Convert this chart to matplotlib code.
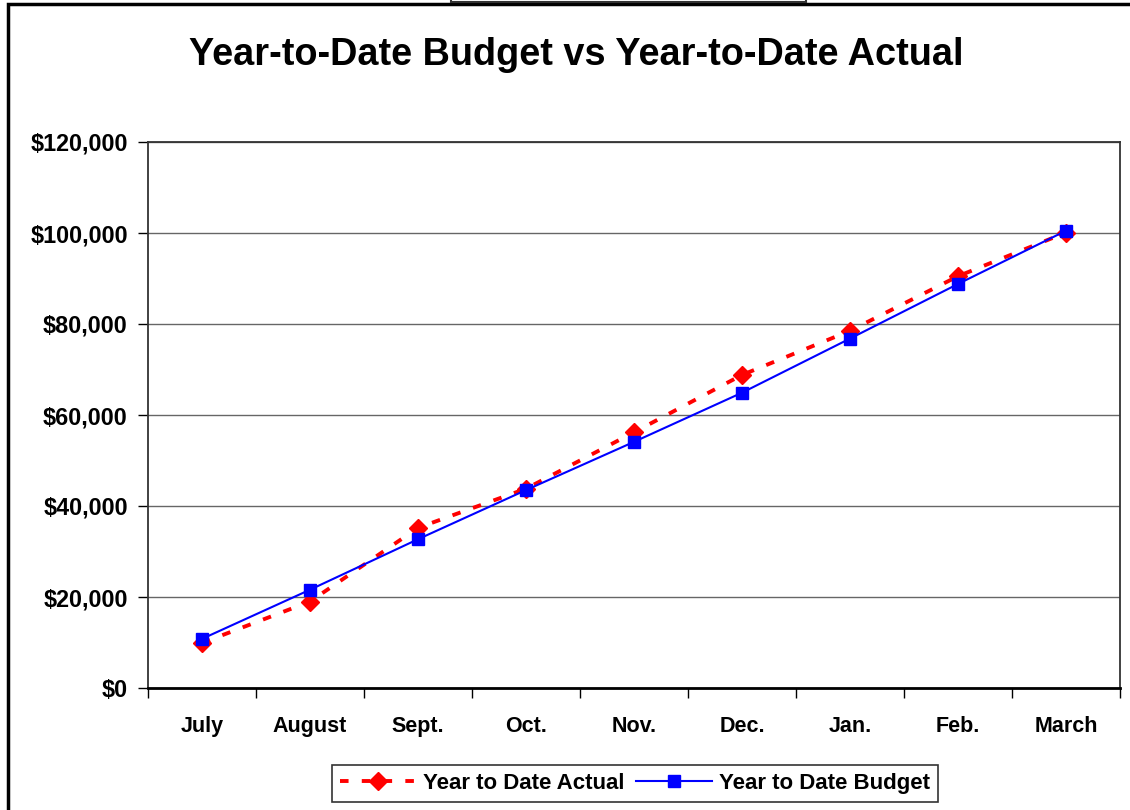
import numpy as np
import matplotlib
matplotlib.use("Agg")
import matplotlib.pyplot as plt
from matplotlib.patches import Rectangle
from matplotlib.ticker import FuncFormatter, FixedLocator

plt.rcParams['font.family'] = ['Liberation Sans', 'DejaVu Sans']
plt.rcParams['font.weight'] = 'bold'

# data
months = ['July', 'August', 'Sept.', 'Oct.', 'Nov.', 'Dec.', 'Jan.', 'Feb.', 'March']
ytd_actual = [9900, 19000, 35200, 43800, 56200, 68800, 78500, 90500, 100100]
ytd_budget = [10800, 21600, 32700, 43500, 54100, 64900, 76800, 88800, 100500]
y_ticks = [0, 20000, 40000, 60000, 80000, 100000, 120000]

fig = plt.figure(figsize=(11.3, 8.1), dpi=100)
ax = fig.add_axes([148/1130, 1-688/810, (1120-148)/1130, (688-142)/810])

x = np.arange(len(months))
ax.plot(x, ytd_actual, color='red', linestyle=(0, (2.2, 3.4)), linewidth=2.8,
        marker='D', markersize=9, label='Year to Date Actual', zorder=3)
ax.plot(x, ytd_budget, color='blue', linewidth=1.5,
        marker='s', markersize=8, label='Year to Date Budget', zorder=4)

ax.set_xlim(-0.5, len(months) - 0.5)
ax.set_ylim(0, 120000)
ax.set_yticks(y_ticks)
ax.yaxis.set_major_formatter(FuncFormatter(lambda v, p: '${:,.0f}'.format(v)))
ax.set_xticks(x)
ax.set_xticklabels(months)
ax.xaxis.set_minor_locator(FixedLocator(np.arange(-0.5, len(months), 1.0)))
ax.tick_params(axis='x', which='major', length=0, pad=20, labelsize=15.5)
ax.tick_params(axis='x', which='minor', length=7, width=1, direction='out')
ax.tick_params(axis='y', length=7, width=1, direction='out', pad=7.5, labelsize=16.8)
for lbl in ax.get_xticklabels() + ax.get_yticklabels():
    lbl.set_fontweight('bold')

ax.grid(axis='y', color='0.4', linewidth=1)
ax.set_axisbelow(True)
for side in ['top', 'right', 'left']:
    ax.spines[side].set_linewidth(1.3)
    ax.spines[side].set_color('0.2')
ax.spines['bottom'].set_linewidth(2)
ax.spines['bottom'].set_color('black')

fig.text(576/1130, 1-55/810, 'Year-to-Date Budget vs Year-to-Date Actual',
         ha='center', va='center', fontsize=27.3, fontweight='bold')

leg = fig.legend(loc='center', bbox_to_anchor=(635/1130, 1-783.5/810), ncol=2,
                 frameon=True, fancybox=False, edgecolor='black', fontsize=16,
                 handlelength=3.45, columnspacing=0.5, handletextpad=0.3,
                 borderpad=0.35, borderaxespad=0)
leg.get_frame().set_linewidth(1.2)
for t in leg.get_texts():
    t.set_fontweight('bold')

# outer chart border and the little box above it
fig.patches.append(Rectangle((8/1130, -0.1), 1.2, 1 - 4/810 + 0.1, transform=fig.transFigure,
                             fill=False, edgecolor='black', linewidth=2.5))
fig.patches.append(Rectangle((451/1130, 1 - 2/810), 355/1130, 0.05, transform=fig.transFigure,
                             facecolor='white', edgecolor='0.2', linewidth=1.5))

fig.savefig('out.png', dpi=100)
